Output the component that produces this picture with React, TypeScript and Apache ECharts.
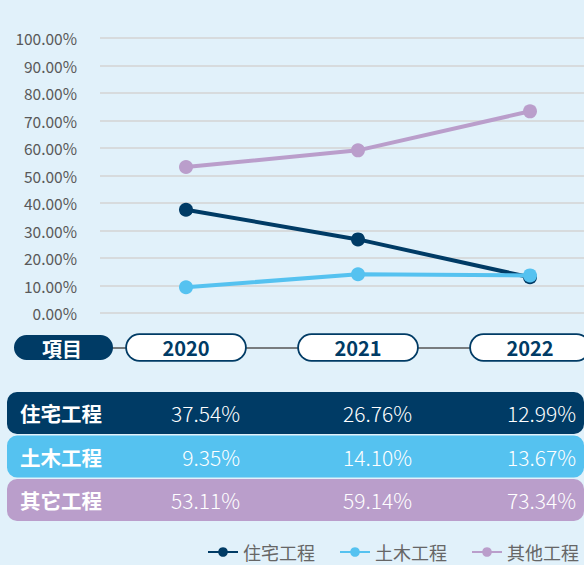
import React, { useEffect, useRef } from "react";
import * as echarts from "echarts";

const years = ["2020", "2021", "2022"];
const residential = [37.54, 26.76, 12.99];
const civil = [9.35, 14.1, 13.67];
const other = [53.11, 59.14, 73.34];
const legendNames = ["住宅工程", "土木工程", "其他工程"];
const rowLabels = ["住宅工程", "土木工程", "其它工程"];
const headerLabel = "項目";

const NAVY = "#003B65";
const BLUE = "#55C2F0";
const PURPLE = "#BA9ECB";
const COLORS = [NAVY, BLUE, PURPLE];
const FONT = '"Noto Sans CJK SC", "Noto Sans", sans-serif';
const CANVAS_W = 616;
const VIEW_W = 584;

export default function App() {
  const ref = useRef<HTMLDivElement>(null);
  useEffect(() => {
    if (!ref.current) return;
    const chart = echarts.init(ref.current, null, { renderer: "svg" });
    const seriesData = [residential, civil, other];
    chart.setOption({
      animation: false,
      backgroundColor: "#E1F1FA",
      textStyle: { fontFamily: FONT },
      grid: { left: 100, right: 0, top: 38, bottom: 252 },
      legend: {
        data: legendNames,
        right: CANVAS_W - VIEW_W,
        top: 538,
        itemWidth: 30,
        itemHeight: 12,
        itemGap: 24,
        textStyle: { fontSize: 18, color: "#666", fontFamily: FONT },
      },
      xAxis: {
        type: "category",
        data: years,
        boundaryGap: true,
        offset: 35,
        axisTick: { show: false },
        axisLine: { onZero: false, lineStyle: { color: "#555", width: 1.5 } },
        splitLine: { show: false },
        axisLabel: {
          interval: 0,
          margin: -13,
          color: NAVY,
          fontSize: 20,
          fontWeight: "bold",
          fontFamily: FONT,
          backgroundColor: "#fff",
          borderColor: NAVY,
          borderWidth: 1.8,
          borderRadius: 12.5,
          width: 118,
          align: "center",
          lineHeight: 21,
          padding: [2, 0],
        },
      },
      yAxis: {
        type: "value",
        min: 0,
        max: 100,
        interval: 10,
        axisLine: { show: false },
        axisTick: { show: false },
        splitLine: { lineStyle: { color: "#D3D3D3", width: 1.5 } },
        axisLabel: {
          margin: 23,
          fontSize: 15.5,
          color: "#595959",
          fontFamily: FONT,
          formatter: (v: number) => v.toFixed(2) + "%",
        },
      },
      series: legendNames.map((name, i) => ({
        name,
        type: "line",
        data: seriesData[i],
        symbol: "circle",
        symbolSize: 14,
        lineStyle: { width: 4, color: COLORS[i] },
        itemStyle: { color: COLORS[i] },
        z: 2 + i,
      })),
    });

    const xs = years.map((y) => chart.convertToPixel({ xAxisIndex: 0 }, y) as number);
    const elements: any[] = [];
    elements.push({
      type: "rect",
      z: 100,
      shape: { x: 14, y: 335, width: 99, height: 25, r: 12.5 },
      style: { fill: NAVY },
    });
    elements.push({
      type: "text",
      z: 101,
      x: 62,
      y: 348,
      style: {
        text: headerLabel,
        fill: "#fff",
        font: `bold 20px ${FONT}`,
        textAlign: "center",
        textVerticalAlign: "middle",
        align: "center",
        verticalAlign: "middle",
      },
    });
    rowLabels.forEach((label, r) => {
      const top = 392 + r * 43.5;
      const cy = top + 21;
      elements.push({
        type: "rect",
        z: 100,
        shape: { x: 7, y: top, width: VIEW_W - 7, height: 42, r: 10 },
        style: { fill: COLORS[r] },
      });
      elements.push({
        type: "text",
        z: 101,
        x: 20,
        y: cy,
        style: {
          text: label,
          fill: "#fff",
          font: `bold 20.5px ${FONT}`,
          textAlign: "left",
          textVerticalAlign: "middle",
          align: "left",
          verticalAlign: "middle",
        },
      });
      seriesData[r].forEach((v, i) => {
        elements.push({
          type: "text",
          z: 101,
          x: Math.min(xs[i] + 54, VIEW_W - 8),
          y: cy,
          style: {
            text: v.toFixed(2) + "%",
            fill: "#fff",
            font: `300 21px ${FONT}`,
            textAlign: "right",
            textVerticalAlign: "middle",
            align: "right",
            verticalAlign: "middle",
          },
        });
      });
    });
    chart.setOption({ graphic: { elements } });
    return () => chart.dispose();
  }, []);
  return (
    <div
      ref={ref}
      style={{ position: "fixed", left: 0, top: 0, width: CANVAS_W, height: 565 }}
    />
  );
}
